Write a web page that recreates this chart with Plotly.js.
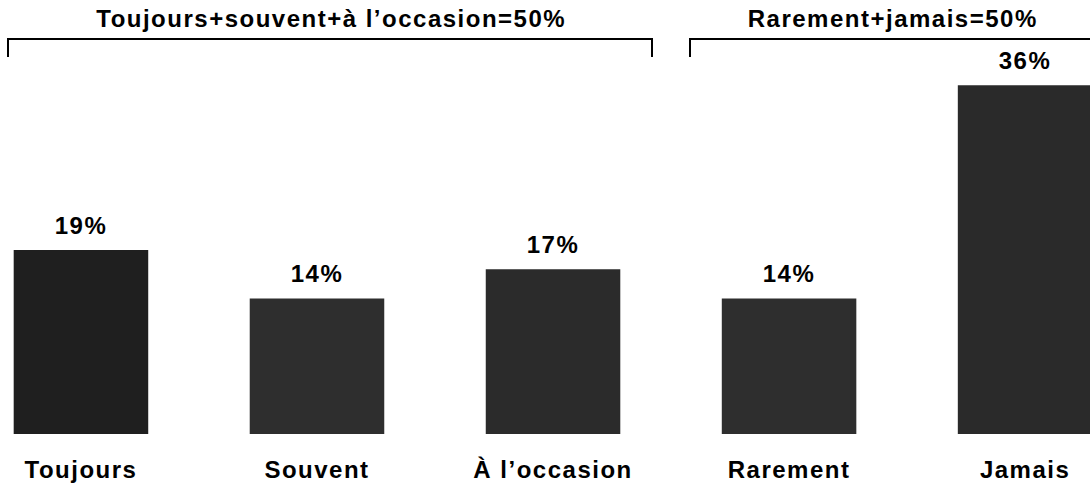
<!DOCTYPE html>
<html>
<head>
<meta charset="utf-8">
<script src="https://cdn.plot.ly/plotly-3.0.1.min.js"></script>
<style>
html,body{margin:0;padding:0;background:#fff;}
#chart{width:1090px;height:484px;}
#chart svg text{letter-spacing:1.5px;}
</style>
</head>
<body>
<div id="chart"></div>
<script>
const categories = ["Toujours", "Souvent", "À l\u2019occasion", "Rarement", "Jamais"];
const values = [19, 14, 17, 14, 36];
const valueLabels = ["19%", "14%", "17%", "14%", "36%"];
const groupLabels = ["Toujours+souvent+à l\u2019occasion=50%", "Rarement+jamais=50%"];
const barColors = ["#1f1f1f", "#2e2e2e", "#2b2b2b", "#2e2e2e", "#2a2a2a"];

const font = {family: "Liberation Sans, Arial, sans-serif", size: 24, color: "#000"};

const trace = {
  type: "bar",
  x: categories,
  y: values,
  marker: {color: barColors, line: {width: 0}},
  width: 0.57,
  hoverinfo: "none"
};

const annotations = categories.map((c, i) => ({
  x: c, y: values[i], xref: "x", yref: "y",
  text: "<b>" + valueLabels[i] + "</b>",
  showarrow: false, yanchor: "bottom", yshift: 9,
  font: font
}));

const px = v => v / 1090;
const py = v => (434 - v) / 434;

annotations.push({
  xref: "paper", yref: "paper", x: px(331), y: py(19), yanchor: "middle", xanchor: "center",
  text: "<b>" + groupLabels[0] + "</b>", showarrow: false, font: font
});
annotations.push({
  xref: "paper", yref: "paper", x: px(893), y: py(19), yanchor: "middle", xanchor: "center",
  text: "<b>" + groupLabels[1] + "</b>", showarrow: false, font: font
});

const lineStyle = {color: "#000", width: 2};
const shapes = [
  {type: "path", xref: "paper", yref: "paper",
   path: `M ${px(8)} ${py(57)} L ${px(8)} ${py(39)} L ${px(652)} ${py(39)} L ${px(652)} ${py(57)}`,
   line: lineStyle},
  {type: "path", xref: "paper", yref: "paper",
   path: `M ${px(690)} ${py(57)} L ${px(690)} ${py(39)} L ${px(1092)} ${py(39)}`,
   line: lineStyle}
];

const layout = {
  width: 1090, height: 484,
  margin: {l: 0, r: 0, t: 0, b: 50},
  paper_bgcolor: "#fff", plot_bgcolor: "#fff",
  showlegend: false,
  xaxis: {
    type: "category", range: [-0.343, 4.275],
    showgrid: false, zeroline: false, showline: false, ticks: "",
    tickfont: {family: font.family, size: 24, color: "#000", weight: "bold"},
    ticklabelstandoff: 19
  },
  yaxis: {range: [0, 44.8], visible: false, showgrid: false, zeroline: false},
  annotations: annotations,
  shapes: shapes
};

Plotly.newPlot("chart", [trace], layout, {staticPlot: true, displayModeBar: false});
</script>
</body>
</html>
